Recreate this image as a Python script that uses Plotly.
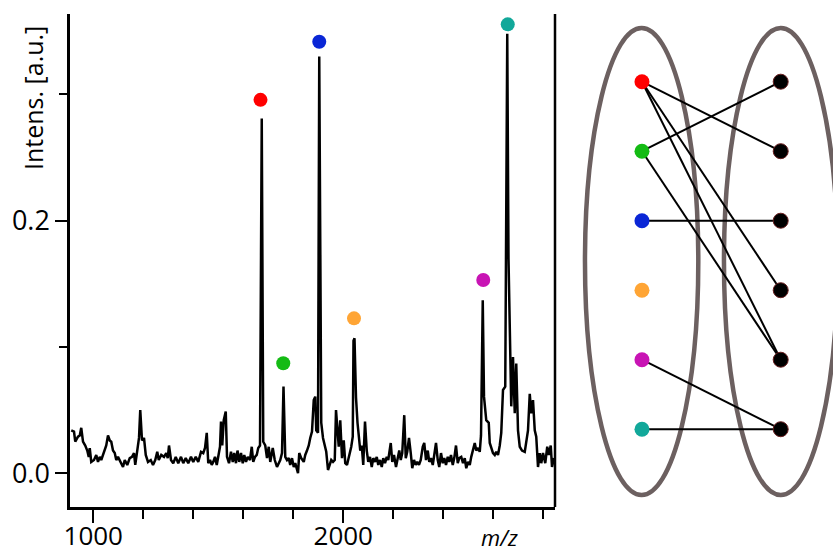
import plotly.graph_objects as go

# ---- mass spectrum (m/z, relative intensity) ----
mz = [912, 923, 928, 939, 946, 952, 959, 968, 976, 982, 986, 992, 1003, 1012, 1019, 1026,
      1032, 1046, 1052, 1059, 1066, 1072, 1079, 1086, 1092, 1099, 1110, 1119, 1126, 1136,
      1146, 1155, 1163, 1168, 1176, 1183, 1188, 1195, 1203, 1210, 1219, 1230, 1239, 1248,
      1256, 1262, 1272, 1283, 1292, 1298, 1303, 1311, 1320, 1330, 1340, 1351, 1360, 1370,
      1380, 1391, 1400, 1410, 1420, 1431, 1440, 1447, 1454, 1460, 1467, 1474, 1480, 1487,
      1494, 1500, 1507, 1511, 1516, 1522, 1530, 1535, 1543, 1551, 1558, 1564, 1571, 1577,
      1584, 1591, 1598, 1604, 1611, 1618, 1627, 1634, 1640, 1647, 1654, 1660, 1667, 1674,
      1680, 1688, 1695, 1702, 1708, 1718, 1726, 1735, 1742, 1748, 1755, 1761, 1768, 1775,
      1782, 1788, 1795, 1802, 1808, 1819, 1824, 1832, 1842, 1848, 1855, 1862, 1868, 1875,
      1882, 1888, 1892, 1899, 1904, 1912, 1919, 1926, 1932, 1939, 1946, 1952, 1959, 1966,
      1971, 1976, 1982, 1988, 1995, 2002, 2008, 2015, 2024, 2032, 2038, 2041, 2045, 2051,
      2057, 2062, 2068, 2074, 2080, 2087, 2094, 2100, 2107, 2114, 2120, 2127, 2134, 2140,
      2147, 2154, 2160, 2167, 2174, 2180, 2190, 2196, 2203, 2211, 2218, 2224, 2230, 2236,
      2244, 2250, 2256, 2263, 2270, 2276, 2283, 2290, 2296, 2303, 2310, 2318, 2324, 2331,
      2338, 2344, 2351, 2358, 2364, 2371, 2378, 2384, 2391, 2398, 2404, 2411, 2418, 2424,
      2431, 2438, 2444, 2451, 2458, 2464, 2472, 2479, 2486, 2492, 2499, 2506, 2512, 2519,
      2526, 2532, 2539, 2546, 2551, 2558, 2563, 2572, 2582, 2586, 2592, 2599, 2606, 2612,
      2619, 2626, 2632, 2639, 2648, 2656, 2661, 2666, 2672, 2679, 2686, 2692, 2699, 2706,
      2715, 2726, 2732, 2739, 2746, 2752, 2759, 2766, 2772, 2779, 2786, 2792, 2799, 2808,
      2816, 2822, 2830, 2835, 2843]
intensity = [0.034, 0.033, 0.025, 0.029, 0.030, 0.036, 0.025, 0.022, 0.018, 0.013, 0.020, 0.009,
             0.0105, 0.0145, 0.009, 0.013, 0.0105, 0.020, 0.022, 0.030, 0.026, 0.025, 0.018,
             0.016, 0.0105, 0.013, 0.008, 0.005, 0.0105, 0.0066, 0.012, 0.013, 0.016, 0.0066,
             0.018, 0.028, 0.050, 0.026, 0.028, 0.0145, 0.009, 0.0105, 0.0066, 0.0105, 0.017,
             0.0105, 0.0145, 0.013, 0.016, 0.012, 0.022, 0.0105, 0.008, 0.013, 0.008, 0.013,
             0.008, 0.012, 0.008, 0.013, 0.009, 0.013, 0.009, 0.017, 0.016, 0.020, 0.032, 0.008,
             0.0105, 0.0066, 0.009, 0.013, 0.0066, 0.0145, 0.021, 0.041, 0.022, 0.042, 0.049,
             0.013, 0.008, 0.017, 0.009, 0.016, 0.008, 0.018, 0.009, 0.016, 0.008, 0.0145, 0.009,
             0.013, 0.0105, 0.021, 0.009, 0.013, 0.0145, 0.020, 0.022, 0.281, 0.025, 0.022,
             0.012, 0.021, 0.009, 0.020, 0.0105, 0.005, 0.008, 0.0105, 0.016, 0.0686, 0.013,
             0.0105, 0.012, 0.0066, 0.012, 0.005, 0.008, 0.000, 0.016, 0.012, 0.009, 0.0145,
             0.018, 0.022, 0.028, 0.033, 0.058, 0.0607, 0.034, 0.032, 0.330, 0.040, 0.028, 0.021,
             0.017, 0.0026, 0.008, 0.0105, 0.009, 0.0105, 0.050, 0.034, 0.021, 0.042, 0.012,
             0.026, 0.008, 0.0066, 0.0145, 0.021, 0.029, 0.105, 0.107, 0.060, 0.040, 0.029,
             0.018, 0.022, 0.0066, 0.041, 0.018, 0.009, 0.013, 0.005, 0.012, 0.009, 0.013,
             0.0066, 0.0105, 0.005, 0.012, 0.008, 0.013, 0.0105, 0.024, 0.009, 0.0145, 0.005,
             0.012, 0.018, 0.0105, 0.016, 0.046, 0.012, 0.017, 0.028, 0.016, 0.004, 0.0105,
             0.0066, 0.009, 0.0066, 0.0105, 0.021, 0.024, 0.0105, 0.018, 0.009, 0.012, 0.0066,
             0.0145, 0.024, 0.0105, 0.005, 0.016, 0.008, 0.012, 0.0066, 0.013, 0.009, 0.0145,
             0.0066, 0.012, 0.022, 0.008, 0.012, 0.013, 0.008, 0.012, 0.004, 0.009, 0.0066,
             0.013, 0.018, 0.024, 0.018, 0.020, 0.017, 0.030, 0.137, 0.0607, 0.042, 0.040, 0.024,
             0.020, 0.016, 0.0145, 0.017, 0.0145, 0.022, 0.032, 0.066, 0.0686, 0.348, 0.170,
             0.0977, 0.053, 0.092, 0.0475, 0.087, 0.034, 0.021, 0.018, 0.017, 0.026, 0.034,
             0.063, 0.0475, 0.058, 0.034, 0.029, 0.005, 0.016, 0.008, 0.016, 0.008, 0.021,
             0.0145, 0.022, 0.005, 0.012]

# ---- labelled peaks ----
peak_colors = ["#ff0000", "#14bb14", "#0a26d6", "#ffa535", "#c814b4", "#12a89a"]
peak_mz = [1669, 1760, 1904, 2043, 2560, 2658]
peak_marker_int = [0.2957, 0.0871, 0.3417, 0.1227, 0.153, 0.3555]

# ---- bipartite matching: (left row, right row) ----
n_rows = 6
edges = [(0, 1), (0, 3), (0, 4), (1, 0), (1, 4), (2, 2), (4, 5), (5, 5)]

# tick positions
x_major = [1000, 2000]
x_major_text = ["1000", "2000"]
x_minor = [1200, 1400, 1600, 1800, 2200, 2400, 2600, 2800]
y_major = [0.0, 0.2]
y_major_text = ["0.0", "0.2"]
y_minor = [0.1, 0.3]

W, H = 833, 553
FONT = "Open Sans"

fig = go.Figure()

fig.add_trace(go.Scatter(
    x=mz, y=intensity, mode="lines",
    line=dict(color="black", width=2.5), xaxis="x", yaxis="y",
    hoverinfo="skip", showlegend=False))

fig.add_trace(go.Scatter(
    x=peak_mz, y=peak_marker_int, mode="markers",
    marker=dict(color=peak_colors, size=14, line=dict(width=0)),
    xaxis="x", yaxis="y", showlegend=False))

# graph edges
ex, ey = [], []
for a, b in edges:
    ex += [0, 1, None]
    ey += [a, b, None]
fig.add_trace(go.Scatter(
    x=ex, y=ey, mode="lines", line=dict(color="black", width=2),
    xaxis="x2", yaxis="y2", showlegend=False, hoverinfo="skip"))

# left nodes (coloured) and right nodes (black)
rows = list(range(n_rows))
fig.add_trace(go.Scatter(
    x=[0] * n_rows, y=rows, mode="markers",
    marker=dict(color=peak_colors, size=15, line=dict(width=0)),
    xaxis="x2", yaxis="y2", showlegend=False))
fig.add_trace(go.Scatter(
    x=[1] * n_rows, y=rows, mode="markers",
    marker=dict(color="black", size=15, line=dict(color="#6a2020", width=1)),
    xaxis="x2", yaxis="y2", showlegend=False))

ell_color = "#6c6060"
shapes = [
    # right-hand spine of the spectrum panel
    dict(type="line", xref="x domain", yref="y domain", x0=1, x1=1, y0=0, y1=1,
         line=dict(color="black", width=2.5)),
    # the two node sets
    dict(type="circle", xref="x2", yref="y2", x0=-0.411, x1=0.406, y0=-0.773, y1=5.947,
         line=dict(color=ell_color, width=4.5), layer="below"),
    dict(type="circle", xref="x2", yref="y2", x0=0.591, x1=1.410, y0=-0.773, y1=5.947,
         line=dict(color=ell_color, width=4.5), layer="below"),
]

annotations = [
    dict(text="Intens. [a.u.]", xref="paper", yref="paper", x=33 / W, y=1 - 98 / H,
         textangle=-90, showarrow=False, font=dict(family=FONT, size=25, color="black"),
         xanchor="center", yanchor="middle"),
    dict(text="<i>m/z</i>", xref="x", yref="paper", x=2623, y=1 - 537 / H,
         showarrow=False, font=dict(family=FONT, size=22, color="black"),
         xanchor="center", yanchor="middle"),
]

fig.update_layout(
    width=W, height=H,
    margin=dict(l=0, r=0, t=0, b=0, autoexpand=False),
    paper_bgcolor="white", plot_bgcolor="white",
    showlegend=False,
    font=dict(family=FONT, color="black"),
    xaxis=dict(
        domain=[70 / W, 555 / W], range=[907, 2847], autorange=False,
        automargin=False,
        showgrid=False, zeroline=False,
        showline=True, linecolor="black", linewidth=2.5,
        ticks="outside", ticklen=13, tickwidth=2, tickcolor="black",
        tickvals=x_major, ticktext=x_major_text,
        tickfont=dict(family=FONT, size=26, color="black"),
        ticklabelstandoff=-9,
        minor=dict(tickvals=x_minor, ticks="outside", ticklen=9, tickwidth=2,
                   tickcolor="black", showgrid=False),
    ),
    yaxis=dict(
        domain=[1 - 507 / H, 1 - 14 / H], range=[-0.0267, 0.3637], autorange=False,
        automargin=False,
        showgrid=False, zeroline=False,
        showline=True, linecolor="black", linewidth=2.5,
        ticks="outside", ticklen=12, tickwidth=2, tickcolor="black",
        tickvals=y_major, ticktext=y_major_text,
        tickfont=dict(family=FONT, size=27, color="black"),
        minor=dict(tickvals=y_minor, ticks="outside", ticklen=8, tickwidth=2,
                   tickcolor="black", showgrid=False),
    ),
    xaxis2=dict(domain=[560 / W, 1], range=[-0.591, 1.377], autorange=False,
                visible=False, anchor="y2", automargin=False),
    yaxis2=dict(domain=[0, 1], range=[6.781, -1.1755], autorange=False,
                visible=False, anchor="x2", automargin=False),
    shapes=shapes,
    annotations=annotations,
)

fig.write_html("out.html")
